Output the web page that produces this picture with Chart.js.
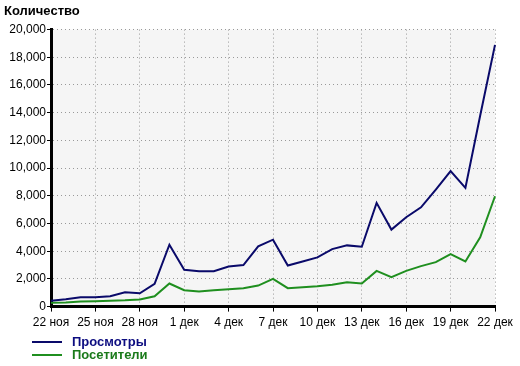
<!DOCTYPE html>
<html lang="ru">
<head>
    <meta charset="UTF-8">
    <title>Количество</title>
    <script src="https://cdn.jsdelivr.net/npm/chart.js"></script>
    <style>
        body {
            margin: 0;
            background: #fff;
            font-family: 'Liberation Sans', Arial, sans-serif;
        }
        .wrap {
            position: relative;
            width: 520px;
            height: 366px;
        }
        #legend {
            position: absolute;
            left: 32px;
            top: 335px;
            font-weight: bold;
            font-size: 13px;
            line-height: 13px;
        }
        #legend div {
            display: flex;
            align-items: center;
        }
        #legend span.line {
            display: inline-block;
            width: 30px;
            height: 2px;
            margin-right: 10px;
        }
    </style>
</head>
<body>
    <div class="wrap">
        <canvas id="chart" width="520" height="366"></canvas>
        <div id="legend"></div>
    </div>

    <script>
        // дни с 22 ноя по 22 дек
        const days = [
            '22 ноя', '23 ноя', '24 ноя', '25 ноя', '26 ноя', '27 ноя', '28 ноя', '29 ноя', '30 ноя',
            '1 дек', '2 дек', '3 дек', '4 дек', '5 дек', '6 дек', '7 дек', '8 дек', '9 дек', '10 дек',
            '11 дек', '12 дек', '13 дек', '14 дек', '15 дек', '16 дек', '17 дек', '18 дек', '19 дек',
            '20 дек', '21 дек', '22 дек'
        ];
        const views = [
            430, 530, 670, 670, 750, 1040, 960, 1640, 4470, 2660, 2560, 2560, 2900, 3000, 4350,
            4830, 2970, 3260, 3550, 4150, 4420, 4320, 7490, 5560, 6450, 7170, 8450, 9780, 8570,
            13800, 18900
        ];
        const visitors = [
            270, 300, 360, 390, 430, 450, 520, 750, 1670, 1180, 1090, 1180, 1250, 1330, 1520,
            2000, 1330, 1400, 1470, 1570, 1760, 1670, 2580, 2130, 2580, 2920, 3210, 3790, 3260,
            5000, 7970
        ];
        const seriesNames = ['Просмотры', 'Посетители'];
        const seriesColors = ['#0a0a6a', '#1f8f1f'];
        const labelColors = ['#0d0d80', '#1a7a1a'];

        const plotBg = {
            id: 'plotBg',
            beforeDraw(chart) {
                const a = chart.chartArea;
                const ctx = chart.ctx;
                ctx.save();
                ctx.fillStyle = '#f5f5f5';
                ctx.fillRect(a.left, a.top, a.right - a.left, a.bottom - a.top);
                ctx.restore();
            }
        };

        const font = { family: "'Liberation Sans', Arial, sans-serif", size: 12 };

        new Chart(document.getElementById('chart'), {
            type: 'line',
            data: {
                labels: days,
                datasets: [
                    { label: seriesNames[0], data: views, borderColor: seriesColors[0], borderWidth: 2, pointRadius: 0, tension: 0 },
                    { label: seriesNames[1], data: visitors, borderColor: seriesColors[1], borderWidth: 2, pointRadius: 0, tension: 0 }
                ]
            },
            plugins: [plotBg],
            options: {
                responsive: false,
                animation: false,
                layout: { padding: { left: 4, right: 25, top: 2, bottom: 32 } },
                plugins: {
                    legend: { display: false },
                    tooltip: { enabled: false },
                    title: {
                        display: true,
                        text: 'Количество',
                        align: 'start',
                        color: '#000',
                        font: { family: font.family, size: 13, weight: 'bold' },
                        padding: { top: 2, bottom: 10 }
                    }
                },
                scales: {
                    x: {
                        ticks: {
                            autoSkip: false,
                            maxRotation: 0,
                            color: '#000',
                            font: font,
                            padding: 4,
                            callback: function (v, i) { return i % 3 === 0 ? days[i] : null; }
                        },
                        grid: { color: '#999', tickColor: '#000', tickLength: 5, lineWidth: 1 },
                        border: { color: '#000', width: 3, dash: [1, 3] }
                    },
                    y: {
                        min: 0,
                        max: 20000,
                        afterFit: s => { s.width = 47; },
                        ticks: {
                            stepSize: 2000,
                            color: '#000',
                            font: font,
                            padding: 1,
                            callback: v => v.toLocaleString('en-US')
                        },
                        grid: { color: '#999', tickColor: '#000', tickLength: 4, lineWidth: 1 },
                        border: { color: '#000', width: 3, dash: [1, 3] }
                    }
                }
            }
        });

        const legend = document.getElementById('legend');
        seriesNames.forEach((name, i) => {
            const row = document.createElement('div');
            row.innerHTML = '<span class="line" style="background:' + seriesColors[i] + '"></span>' +
                '<span style="color:' + labelColors[i] + '">' + name + '</span>';
            legend.appendChild(row);
        });
    </script>
</body>
</html>
